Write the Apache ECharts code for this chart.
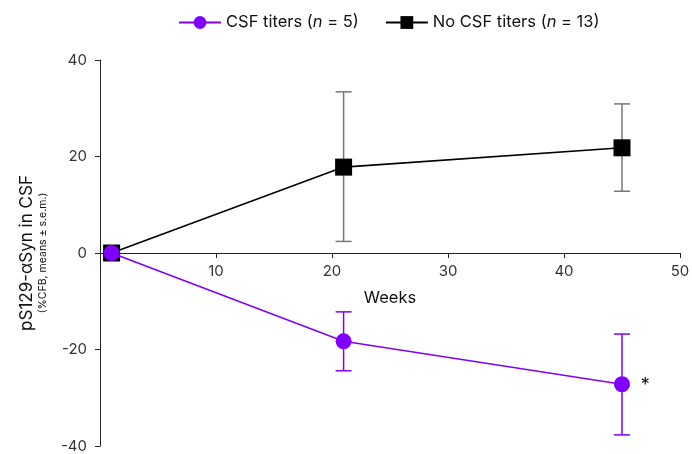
<!DOCTYPE html>
<html><head><meta charset="utf-8">
<script src="https://cdn.jsdelivr.net/npm/echarts@6/dist/echarts.min.js"></script>
<style>html,body{margin:0;padding:0;background:#fff}#c{width:692px;height:454px}</style>
</head><body><div id="c"></div>
<script>
const weeks = [1, 21, 45];
const csfMean = [0, -18.3, -27.2];
const csfLow = [0, -24.4, -37.7];
const csfHigh = [0, -12.2, -16.8];
const noMean = [0, 17.8, 21.8];
const noLow = [0, 2.4, 12.8];
const noHigh = [0, 33.4, 30.9];
const PURPLE = '#8000ff';
const FONT = 'Inter';

function errSeries(lo, hi, color, name) {
  return {
    type: 'custom', name: name, z: 1, silent: true,
    data: weeks.map((w, i) => [w, lo[i], hi[i]]).filter(d => d[1] !== d[2]),
    renderItem: function (params, api) {
      const a = api.coord([api.value(0), api.value(1)]);
      const b = api.coord([api.value(0), api.value(2)]);
      const cw = 8;
      const st = { stroke: color, lineWidth: 1.5 };
      return { type: 'group', children: [
        { type: 'line', shape: { x1: a[0], y1: a[1], x2: b[0], y2: b[1] }, style: st },
        { type: 'line', shape: { x1: a[0] - cw, y1: a[1], x2: a[0] + cw, y2: a[1] }, style: st },
        { type: 'line', shape: { x1: b[0] - cw, y1: b[1], x2: b[0] + cw, y2: b[1] }, style: st }
      ]};
    }
  };
}

const chart = echarts.init(document.getElementById('c'));
chart.setOption({
  animation: false,
  textStyle: { fontFamily: FONT },
  grid: { left: 100, right: 12, top: 60, bottom: 8, containLabel: false, outerBoundsMode: 'none' },
  legend: {
    top: 9, left: 173, itemGap: 26, itemWidth: 42, itemHeight: 16,
    data: ['CSF titers', 'No CSF titers'],
    textStyle: { fontSize: 16.5, color: '#111', fontFamily: FONT,
      rich: { i: { fontStyle: 'italic', fontSize: 16.5, fontFamily: FONT, color: '#111' } } },
    formatter: function (n) {
      return n === 'CSF titers' ? 'CSF titers ({i|n} = 5)' : 'No CSF titers ({i|n} = 13)';
    }
  },
  xAxis: {
    type: 'value', min: 0, max: 50, interval: 10, position: 'bottom', offset: -193,
    name: 'Weeks', nameLocation: 'middle', nameGap: 37,
    nameTextStyle: { fontSize: 16.5, color: '#111', fontFamily: FONT },
    axisLine: { onZero: false, lineStyle: { color: '#222', width: 1 } },
    axisTick: { show: true, length: 5, lineStyle: { color: '#222' } },
    axisLabel: { fontSize: 15, color: '#333', margin: 11,
      formatter: v => (v === 0 ? '' : String(v)) },
    splitLine: { show: false }
  },
  yAxis: {
    type: 'value', min: -40, max: 40, interval: 20,
    name: '{a|pS129-αSyn in CSF}\n{b|(%CFB, means ± s.e.m.)}',
    nameLocation: 'middle', nameGap: 51, nameRotate: 90,
    nameTextStyle: { align: 'center', rich: {
      a: { fontSize: 17, color: '#111', fontFamily: FONT, lineHeight: 18, align: 'center' },
      b: { fontSize: 10.5, color: '#111', fontFamily: FONT, lineHeight: 13, align: 'center' } } },
    axisLine: { show: true, onZero: false, lineStyle: { color: '#222', width: 1 } },
    axisTick: { show: true, length: 5, lineStyle: { color: '#222' } },
    axisLabel: { fontSize: 15, color: '#333', margin: 13 },
    splitLine: { show: false }
  },
  series: [
    errSeries(noLow, noHigh, '#777', 'errNo'),
    errSeries(csfLow, csfHigh, PURPLE, 'errCsf'),
    {
      name: 'No CSF titers', type: 'line', z: 3,
      data: weeks.map((w, i) => [w, noMean[i]]),
      symbol: 'rect', symbolSize: 17, showAllSymbol: true,
      itemStyle: { color: '#000' }, lineStyle: { color: '#000', width: 1.6 }
    },
    {
      name: 'CSF titers', type: 'line', z: 4,
      data: weeks.map((w, i) => [w, csfMean[i]]),
      symbol: 'circle', symbolSize: 16, showAllSymbol: true,
      itemStyle: { color: PURPLE }, lineStyle: { color: PURPLE, width: 1.6 },
      markPoint: {
        symbol: 'circle', symbolSize: 0,
        data: [{ coord: [47.0, -27.4], value: '*' }],
        label: { show: true, formatter: '*', fontSize: 18, color: '#111', fontFamily: FONT }
      }
    }
  ]
});
</script></body></html>
